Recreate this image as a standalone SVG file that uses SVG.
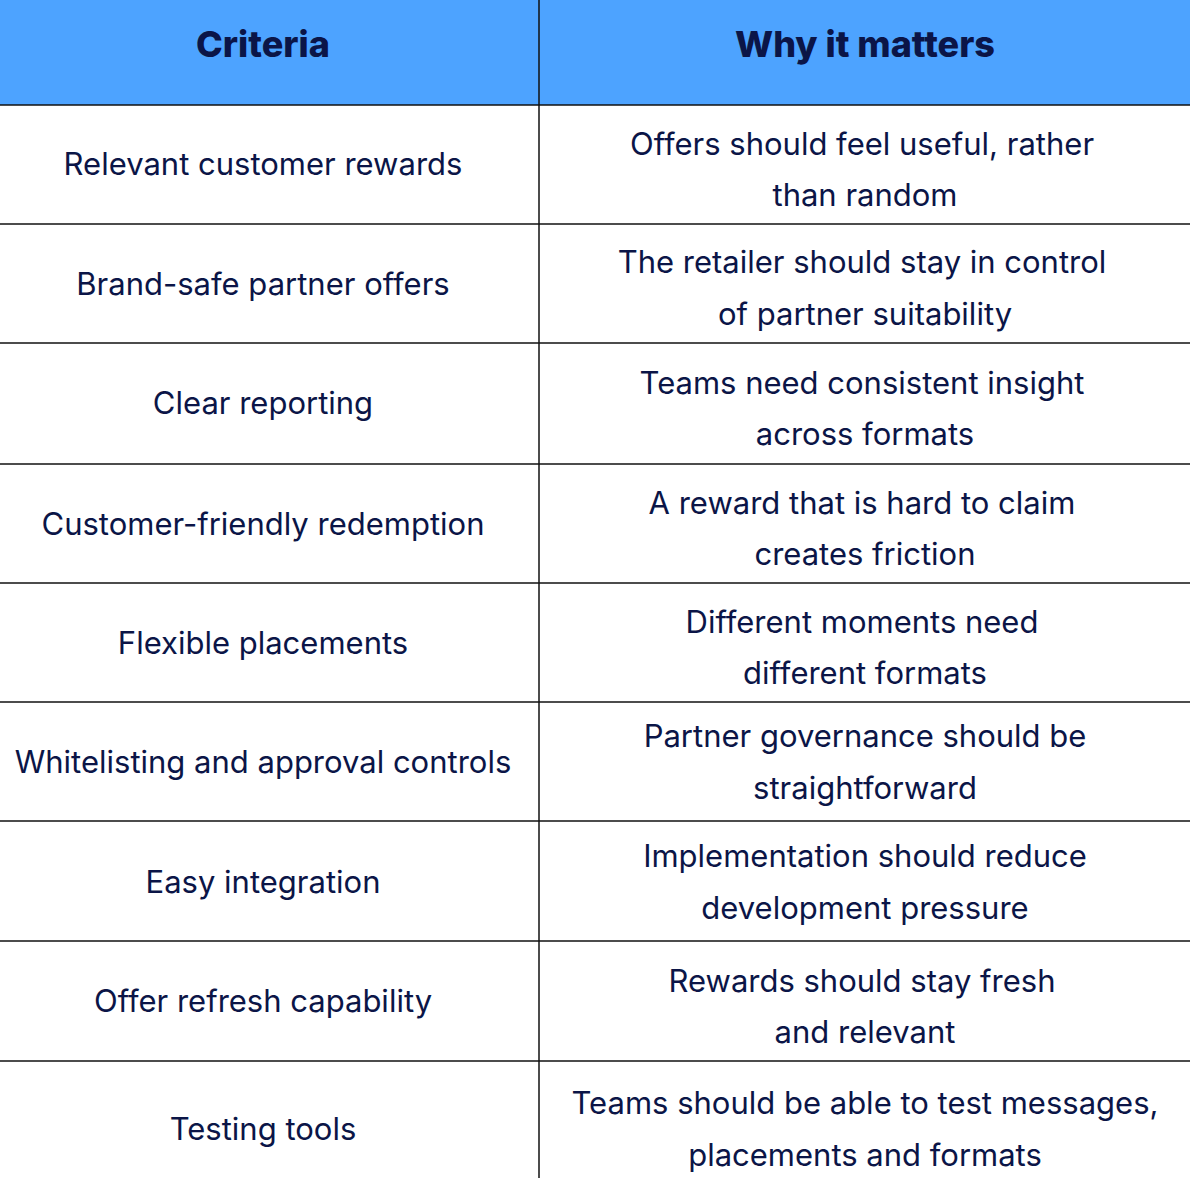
<svg xmlns="http://www.w3.org/2000/svg" width="1190" height="1178" viewBox="0 0 1190 1178">
<style>
.t{font-family:Inter,"Liberation Sans",sans-serif;font-size:31px;fill:#0b1547;text-anchor:middle}
.h{font-family:Inter,"Liberation Sans",sans-serif;font-size:36px;font-weight:800;fill:#0b1547;text-anchor:middle}
.l{stroke:#111;stroke-width:1.5}
</style>
<rect width="1190" height="1178" fill="#fff"/>
<rect width="1190" height="105" fill="#4da3ff"/>
<g id="grid">
<line class="l" x1="539" y1="0" x2="539" y2="1178"/>
<line class="l" x1="0" y1="105" x2="1190" y2="105"/>
<line class="l" x1="0" y1="224" x2="1190" y2="224"/>
<line class="l" x1="0" y1="343" x2="1190" y2="343"/>
<line class="l" x1="0" y1="464" x2="1190" y2="464"/>
<line class="l" x1="0" y1="583" x2="1190" y2="583"/>
<line class="l" x1="0" y1="702" x2="1190" y2="702"/>
<line class="l" x1="0" y1="821" x2="1190" y2="821"/>
<line class="l" x1="0" y1="941" x2="1190" y2="941"/>
<line class="l" x1="0" y1="1061" x2="1190" y2="1061"/>
</g>
<g id="header"><text class="h" x="263" y="57">Criteria</text><text class="h" x="865" y="57">Why it matters</text></g>
<g id="r1"><text class="t" x="263" y="175">Relevant customer rewards</text><text class="t" x="862" y="155">Offers should feel useful, rather</text><text class="t" x="865" y="206">than random</text></g>
<g id="r2"><text class="t" x="263" y="295">Brand-safe partner offers</text><text class="t" x="862" y="273">The retailer should stay in control</text><text class="t" x="865" y="325">of partner suitability</text></g>
<g id="r3"><text class="t" x="263" y="414">Clear reporting</text><text class="t" x="862" y="394">Teams need consistent insight</text><text class="t" x="865" y="445">across formats</text></g>
<g id="r4"><text class="t" x="263" y="535">Customer-friendly redemption</text><text class="t" x="862" y="514">A reward that is hard to claim</text><text class="t" x="865" y="565">creates friction</text></g>
<g id="r5"><text class="t" x="263" y="654">Flexible placements</text><text class="t" x="862" y="633">Different moments need</text><text class="t" x="865" y="684">different formats</text></g>
<g id="r6"><text class="t" x="263" y="773">Whitelisting and approval controls</text><text class="t" x="865" y="747">Partner governance should be</text><text class="t" x="865" y="799">straightforward</text></g>
<g id="r7"><text class="t" x="263" y="893">Easy integration</text><text class="t" x="865" y="867">Implementation should reduce</text><text class="t" x="865" y="919">development pressure</text></g>
<g id="r8"><text class="t" x="263" y="1012">Offer refresh capability</text><text class="t" x="862" y="992">Rewards should stay fresh</text><text class="t" x="865" y="1043">and relevant</text></g>
<g id="r9"><text class="t" x="263" y="1140">Testing tools</text><text class="t" x="865" y="1114">Teams should be able to test messages,</text><text class="t" x="865" y="1166">placements and formats</text></g>
</svg>
